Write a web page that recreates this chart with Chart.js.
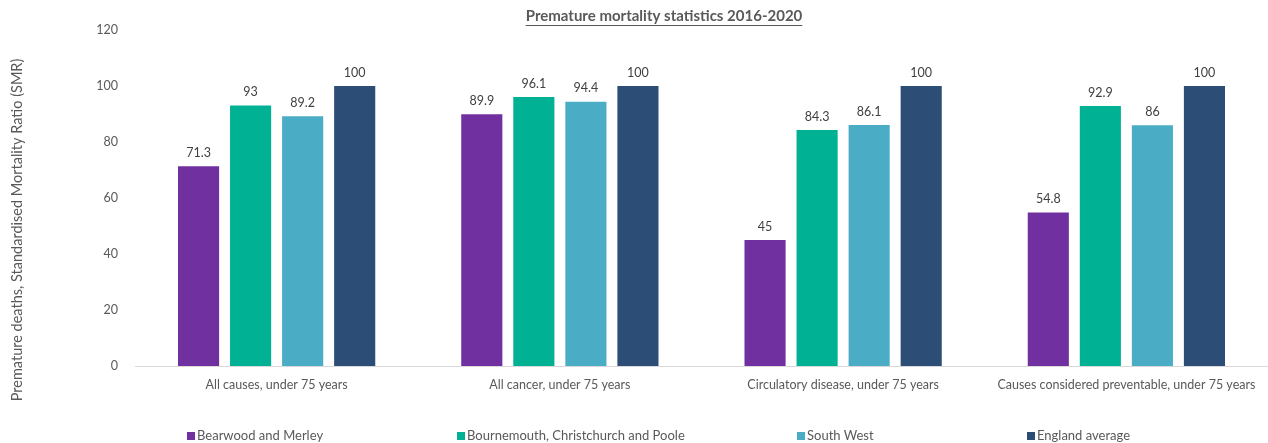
<!DOCTYPE html>
<html>
<head>
<meta charset="utf-8">
<script src="https://cdn.jsdelivr.net/npm/chart.js@4"></script>
<style>
  html, body { margin: 0; padding: 0; background: #fff; }
  #wrap { position: relative; width: 1268px; height: 443px; }
  #legend { position: absolute; left: 0; top: 427px; width: 1268px; height: 16px;
            font-family: Lato, sans-serif; font-size: 13px; color: #595959; }
  #legend .item { position: absolute; top: 0; white-space: nowrap; line-height: 16px; }
  #legend .box { display: inline-block; width: 8px; height: 8px; margin-right: 2px; vertical-align: 0px; }
</style>
</head>
<body>
<div id="wrap">
  <canvas id="chart" width="1268" height="443"></canvas>
  <div id="legend"></div>
</div>
<script>
const categories = [
    'All causes, under 75 years',
    'All cancer, under 75 years',
    'Circulatory disease, under 75 years',
    'Causes considered preventable, under 75 years'
];
const bearwoodMerley = [71.3, 89.9, 45, 54.8];
const bournemouthCP = [93, 96.1, 84.3, 92.9];
const southWest = [89.2, 94.4, 86.1, 86];
const englandAverage = [100, 100, 100, 100];

const seriesNames = ['Bearwood and Merley', 'Bournemouth, Christchurch and Poole', 'South West', 'England average'];
const seriesColors = ['#7030A0', '#00B194', '#4BACC6', '#2C4D75'];
const legendLeft = [187, 457, 797, 1027];

const chartTitle = 'Premature mortality statistics 2016-2020';
const yTitle = 'Premature deaths, Standardised Mortality Ratio (SMR)';
const textGrey = '#595959';

// value labels above each bar
const barValues = {
    id: 'barValues',
    afterDatasetsDraw(chart) {
        const ctx = chart.ctx;
        ctx.save();
        ctx.font = '12.5px Lato, sans-serif';
        ctx.fillStyle = '#404040';
        ctx.textAlign = 'center';
        ctx.textBaseline = 'bottom';
        chart.data.datasets.forEach((ds, i) => {
            chart.getDatasetMeta(i).data.forEach((bar, j) => {
                ctx.fillText(String(ds.data[j]), bar.x, bar.y - 7);
            });
        });
        ctx.restore();
    }
};

// underlined chart title and the rotated y axis title
const titles = {
    id: 'titles',
    afterDraw(chart) {
        const ctx = chart.ctx;
        ctx.save();
        ctx.font = 'bold 15px Lato, sans-serif';
        ctx.fillStyle = textGrey;
        ctx.textAlign = 'center';
        ctx.textBaseline = 'middle';
        const cx = 664;
        ctx.fillText(chartTitle, cx, 16);
        const w = ctx.measureText(chartTitle).width;
        ctx.strokeStyle = textGrey;
        ctx.lineWidth = 1;
        ctx.beginPath();
        ctx.moveTo(cx - w / 2, 25.5);
        ctx.lineTo(cx + w / 2, 25.5);
        ctx.stroke();

        ctx.translate(17, 230);
        ctx.rotate(-Math.PI / 2);
        ctx.font = '14.5px Lato, sans-serif';
        ctx.fillText(yTitle, 0, 0);
        ctx.restore();
    }
};

const seriesData = [bearwoodMerley, bournemouthCP, southWest, englandAverage];

const chart = new Chart(document.getElementById('chart'), {
    type: 'bar',
    data: {
        labels: categories,
        datasets: seriesData.map((d, i) => ({
            label: seriesNames[i],
            data: d,
            backgroundColor: seriesColors[i],
            categoryPercentage: 0.735,
            barPercentage: 0.79
        }))
    },
    options: {
        responsive: false,
        animation: false,
        layout: { padding: { left: 0, right: 0, top: 30, bottom: 0 } },
        plugins: {
            legend: { display: false },
            tooltip: { enabled: false },
            title: { display: false }
        },
        scales: {
            x: {
                grid: { display: false, drawTicks: false },
                border: { display: true, color: '#D9D9D9', width: 1 },
                ticks: {
                    color: textGrey,
                    font: { family: 'Lato, sans-serif', size: 12.5 },
                    padding: 11,
                    maxRotation: 0,
                    autoSkip: false
                },
                afterFit(scale) { scale.height = 77; }
            },
            y: {
                min: 0,
                max: 120,
                grid: { display: false, drawTicks: false },
                border: { display: false },
                ticks: {
                    stepSize: 20,
                    color: textGrey,
                    font: { family: 'Lato, sans-serif', size: 12.5 },
                    padding: 17
                },
                afterFit(scale) { scale.width = 135; }
            }
        }
    },
    plugins: [barValues, titles]
});

// legend row under the chart
const legend = document.getElementById('legend');
chart.data.datasets.forEach((ds, i) => {
    const item = document.createElement('span');
    item.className = 'item';
    item.style.left = legendLeft[i] + 'px';
    item.innerHTML = '<span class="box" style="background:' + ds.backgroundColor + '"></span>' + ds.label;
    legend.appendChild(item);
});
</script>
</body>
</html>
